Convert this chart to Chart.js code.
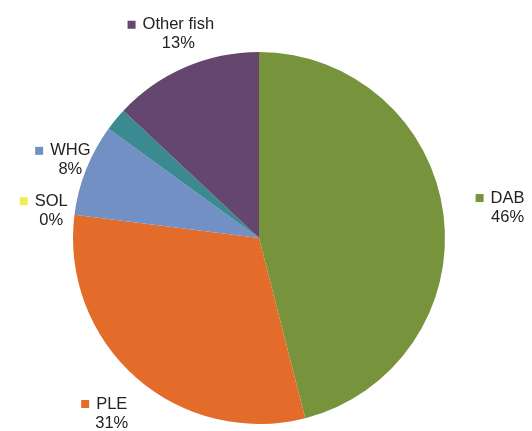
<!DOCTYPE html>
<html>
<head>
<meta charset="utf-8">
<script src="https://cdn.jsdelivr.net/npm/chart.js@4.4.0/dist/chart.umd.min.js"></script>
<style>
    html, body { margin: 0; padding: 0; background: #ffffff; }
    #wrap { position: relative; width: 532px; height: 431px; }
</style>
</head>
<body>
<div id="wrap"><canvas id="catchChart"></canvas></div>
<script>
// catch composition by species, in percent
const species = ['DAB', 'PLE', 'SOL', 'WHG', '', 'Other fish'];
const shares = [46, 31, 0, 8, 2, 13];
const sliceColors = ['#77933c', '#e46c2a', '#eeee5a', '#7290c4', '#3c8a91', '#65466e'];

// how far past the rim each label block sits (null = no label)
const labelGap = [57, 48, 31, 25, null, 36];

const sliceLabels = {
    id: 'sliceLabels',
    afterDatasetsDraw(chart) {
        const ctx = chart.ctx;
        const meta = chart.getDatasetMeta(0);
        const values = chart.data.datasets[0].data;
        const total = values.reduce((a, b) => a + b, 0);
        const box = 8;
        const gap = 7;
        const lineStep = 19;

        ctx.save();
        ctx.font = '16.5px "Liberation Sans", Arial, sans-serif';
        ctx.textBaseline = 'middle';

        meta.data.forEach((arc, i) => {
            const name = chart.data.labels[i];
            if (!name || labelGap[i] === null) return;
            const p = arc.getProps(['x', 'y', 'startAngle', 'endAngle', 'outerRadius'], true);
            const mid = (p.startAngle + p.endAngle) / 2;
            const dist = p.outerRadius + labelGap[i];
            const cx = p.x + Math.cos(mid) * dist;
            const cy = p.y + Math.sin(mid) * dist;

            const nameW = ctx.measureText(name).width;
            const left = cx - (box + gap + nameW) / 2;
            const textX = left + box + gap;
            const y1 = cy - lineStep / 2;
            const y2 = cy + lineStep / 2;

            ctx.fillStyle = sliceColors[i];
            ctx.fillRect(left, y1 - box / 2, box, box);

            ctx.fillStyle = '#222222';
            ctx.textAlign = 'left';
            ctx.fillText(name, textX, y1);
            ctx.textAlign = 'center';
            ctx.fillText(Math.round(values[i] / total * 100) + '%', textX + nameW / 2, y2);
        });
        ctx.restore();
    }
};

const ctx = document.getElementById('catchChart').getContext('2d');

new Chart(ctx, {
    type: 'pie',
    data: {
        labels: species,
        datasets: [{
            data: shares,
            backgroundColor: sliceColors,
            borderWidth: 0
        }]
    },
    options: {
        responsive: true,
        maintainAspectRatio: false,
        animation: false,
        layout: {
            padding: { left: 73, right: 87, top: 52, bottom: 7 }
        },
        plugins: {
            legend: { display: false },
            tooltip: { enabled: false }
        }
    },
    plugins: [sliceLabels]
});
</script>
</body>
</html>
